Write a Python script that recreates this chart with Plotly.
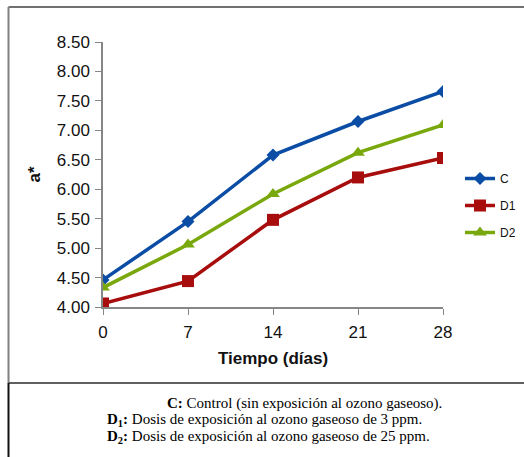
import plotly.graph_objects as go

dias = [0, 7, 14, 21, 28]
c_vals = [4.46, 5.45, 6.58, 7.15, 7.66]
d1_vals = [4.06, 4.44, 5.48, 6.20, 6.53]
d2_vals = [4.33, 5.06, 5.92, 6.62, 7.09]
y_ticks = [4.0, 4.5, 5.0, 5.5, 6.0, 6.5, 7.0, 7.5, 8.0, 8.5]

W, H = 524, 457
L, R, T, B = 103, 443, 42, 307  # plot area in px


def px(x):
    return (x - L) / (R - L)


def py(y):
    return (B - y) / (B - T)


fig = go.Figure()
series = [
    ("C", c_vals, "#0B4DA5", "diamond", 10),
    ("D1", d1_vals, "#A80D0D", "square", 12),
    ("D2", d2_vals, "#78A80C", "triangle-up", 12),
]
for i, (name, vals, col, sym, sz) in enumerate(series):
    fig.add_trace(go.Scatter(
        x=dias, y=vals, name=name, mode="lines+markers",
        line=dict(color=col, width=3.5),
        marker=dict(symbol=sym, size=sz, color=col),
        legendgroup=name,
    ))

axis_col = "#868686"
fig.update_layout(
    width=W, height=H,
    margin=dict(l=L, r=W - R, t=T, b=H - B, autoexpand=False),
    paper_bgcolor="white", plot_bgcolor="white",
    font=dict(family="Liberation Sans, Arial", color="#111111"),
    showlegend=True,
    legend=dict(x=px(460), y=py(164), xanchor="left", yanchor="top",
                font=dict(size=12, family="Liberation Sans"),
                tracegroupgap=8, itemwidth=30,
                bgcolor="rgba(0,0,0,0)"),
    xaxis=dict(range=[0, 28], tickvals=dias, ticktext=[str(d) for d in dias],
               showgrid=False, zeroline=False, showline=True, linecolor=axis_col,
               linewidth=1.5, ticks="outside", ticklen=6, tickcolor=axis_col,
               ticklabelstandoff=3,
               tickfont=dict(size=17, family="Liberation Sans"),
               title=dict(text="<b>Tiempo (días)</b>", standoff=11,
                          font=dict(size=17, family="Liberation Sans"))),
    yaxis=dict(range=[4.0, 8.5], tickvals=y_ticks, ticktext=[f"{v:.2f}" for v in y_ticks],
               showgrid=False, zeroline=False, showline=True, linecolor=axis_col,
               linewidth=1.5, ticks="outside", ticklen=6, tickcolor=axis_col,
               ticklabelstandoff=2,
               tickfont=dict(size=17, family="Liberation Sans"),
               title=dict(text="<b>a*</b>", standoff=12,
                          font=dict(size=17, family="Liberation Sans"))),
)

# frame lines
fig.add_shape(type="line", xref="paper", yref="paper",
              x0=px(8.5), x1=px(530), y0=py(7), y1=py(7),
              line=dict(color="#707070", width=2))
fig.add_shape(type="line", xref="paper", yref="paper",
              x0=px(8.5), x1=px(8.5), y0=py(7), y1=py(383),
              line=dict(color="#808080", width=2))
fig.add_shape(type="line", xref="paper", yref="paper",
              x0=px(8.5), x1=px(530), y0=py(383), y1=py(383),
              line=dict(color="#606060", width=2))
fig.add_shape(type="line", xref="paper", yref="paper",
              x0=px(8.5), x1=px(8.5), y0=py(383), y1=py(460),
              line=dict(color="#111111", width=2))

notes = [
    (165, 403, "<b>C:</b> Control (sin exposición al ozono gaseoso)."),
    (105, 420, "<b>D<sub>1</sub>:</b> Dosis de exposición al ozono gaseoso de 3 ppm."),
    (105, 437, "<b>D<sub>2</sub>:</b> Dosis de exposición al ozono gaseoso de 25 ppm."),
]
for x, y, txt in notes:
    fig.add_annotation(xref="paper", yref="paper", x=px(x), y=py(y),
                       xanchor="left", yanchor="middle", showarrow=False,
                       text=txt, font=dict(family="Liberation Serif, Times New Roman",
                                           size=15, color="#000000"))

fig.write_html("out.html")
